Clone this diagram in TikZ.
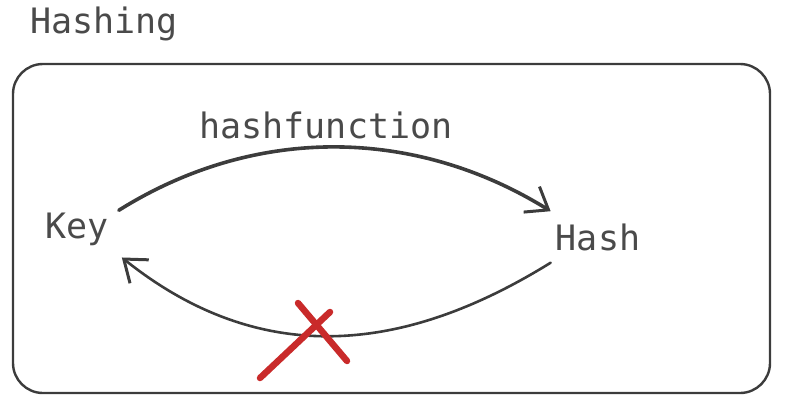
\documentclass[tikz,border=0pt]{standalone}
\usepackage{fontspec}
\setmonofont{DejaVu Sans Mono}
\usetikzlibrary{arrows.meta}
\definecolor{ink}{HTML}{4A4A4A}
\definecolor{edge}{HTML}{3C3C3C}
\definecolor{xred}{HTML}{C92A2A}
\tikzset{
  lbl/.style={font=\ttfamily\fontsize{35}{40}\selectfont, text=ink, inner sep=0pt, anchor=base},
  conn/.style={draw=edge, line width=3.6pt, line cap=round, -{Straight Barb[length=20pt,width=30pt,line width=3pt]}},
  cross/.style={draw=xred, line width=6.5pt, line cap=round}
}
\begin{document}
\begin{tikzpicture}[x=1pt,y=-1pt]
\useasboundingbox (0,0) rectangle (789,407);
\node[lbl] (title) at (104,33) {Hashing};
\draw[edge, line width=2.4pt, rounded corners=30pt] (13,64) rectangle (770,393);
\node[lbl] (hf) at (326,138) {hashfunction};
\node[lbl] (key) at (77,238) {Key};
\node[lbl] (hash) at (598,250) {Hash};
\draw[conn] ([shift={(10,-2)}]key.north east) .. controls (260,122) and (420,130) .. ([shift={(-5,-12)}]hash.north west);
\draw[conn, line width=2.6pt] ([shift={(-5,12)}]hash.south west) .. controls (410,350) and (265,372) .. ([shift={(13,12)}]key.south east);
\draw[cross] (260,378) -- (330,312);
\draw[cross] (298,303) -- (347,361);
\end{tikzpicture}
\end{document}
